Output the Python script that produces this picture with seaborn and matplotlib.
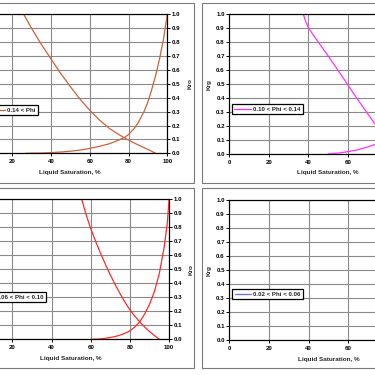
import seaborn as sns
import matplotlib.pyplot as plt
from matplotlib.patches import Rectangle
from matplotlib.ticker import FormatStrFormatter

# legend names and series colours for the four porosity classes
labels = ['0.14 < Phi', '0.10 < Phi < 0.14', '0.06 < Phi < 0.10', '0.02 < Phi < 0.06']
colors = ['#c8643c', '#ff33ff', '#ff2a2a', '#6a6aff']

# panel 1 (top left)
sl_krg_1 = [26, 30, 35, 40, 45, 50, 55, 60, 65, 70, 75, 80, 85, 90, 94]
krg_1 = [1.0, 0.9, 0.785, 0.68, 0.575, 0.48, 0.39, 0.31, 0.24, 0.18, 0.135, 0.095, 0.06, 0.028, 0.0]
sl_kro_1 = [27, 35, 40, 45, 50, 55, 60, 65, 70, 75, 78, 80, 83, 85, 88, 90, 92, 94, 96, 98, 100]
kro_1 = [0.0, 0.002, 0.005, 0.009, 0.015, 0.023, 0.035, 0.05, 0.068, 0.095, 0.115, 0.135,
         0.18, 0.22, 0.3, 0.37, 0.46, 0.56, 0.68, 0.82, 1.0]

# panel 2 (top right)
sl_krg_2 = [37.5, 38.5, 40, 42.5, 45, 50, 55, 60, 65, 70, 74, 80, 85, 90, 95]
krg_2 = [1.0, 0.955, 0.905, 0.852, 0.802, 0.703, 0.6, 0.495, 0.39, 0.29, 0.21, 0.11, 0.05, 0.015, 0.0]
sl_kro_2 = [50, 55, 60, 65, 70, 74, 80, 85, 90, 95, 100]
kro_2 = [0.0, 0.006, 0.017, 0.03, 0.05, 0.07, 0.13, 0.22, 0.38, 0.62, 1.0]

# panel 3 (bottom left)
sl_krg_3 = [55.4, 58, 60, 62.5, 65, 67.5, 70, 72.5, 75, 77.5, 80, 82.5, 85, 87.5, 90, 92.5, 95]
krg_3 = [1.0, 0.875, 0.79, 0.7, 0.615, 0.535, 0.46, 0.39, 0.325, 0.265, 0.21, 0.165, 0.125,
         0.088, 0.056, 0.027, 0.0]
sl_kro_3 = [60, 62.5, 65, 67.5, 70, 72.5, 75, 77.5, 80, 82.5, 85, 87.5, 90, 92.5, 95, 97.5, 99, 100]
kro_3 = [0.0, 0.001, 0.003, 0.007, 0.013, 0.02, 0.03, 0.043, 0.06, 0.088, 0.125, 0.18, 0.25,
         0.34, 0.47, 0.66, 0.82, 1.0]

# panel 4 (bottom right) - curves lie right of the visible window
sl_krg_4 = [76, 80, 85, 90, 95, 98]
krg_4 = [1.0, 0.7, 0.4, 0.17, 0.04, 0.0]
sl_kro_4 = [77, 85, 90, 95, 100]
kro_4 = [0.0, 0.04, 0.15, 0.45, 1.0]

panels = [
    (sl_krg_1, krg_1, sl_kro_1, kro_1),
    (sl_krg_2, krg_2, sl_kro_2, kro_2),
    (sl_krg_3, krg_3, sl_kro_3, kro_3),
    (sl_krg_4, krg_4, sl_kro_4, kro_4),
]

W = H = 375.0


def px_rect(left, top, width, height):
    return [left / W, 1 - (top + height) / H, width / W, height / H]


# plot areas in pixels: left, top, width, height
plot_boxes = [
    (-26.7, 14.3, 194.0, 139.0),
    (229.3, 14.3, 197.5, 139.7),
    (-26.9, 199.3, 196.0, 140.0),
    (229.3, 200.3, 198.5, 140.0),
]
# chart area frames
frame_boxes = [
    (-300, 3.3, 494.3, 179.4),
    (201.7, 3.3, 400, 179.4),
    (-300, 188.3, 494.3, 179.4),
    (201.7, 188.3, 400, 179.4),
]
# legend anchor (axes fraction)
legend_pos = [(0.065, 0.347), (0.012, 0.358), (0.01, 0.336), (0.015, 0.366)]

sns.set_style('white')
plt.rcParams['font.family'] = ['Liberation Sans', 'DejaVu Sans']
plt.rcParams['font.weight'] = 'bold'

fs = 4.4
fig = plt.figure(figsize=(3.75, 3.75), dpi=100)

for fb in frame_boxes:
    fig.add_artist(Rectangle((fb[0] / W, 1 - (fb[1] + fb[3]) / H), fb[2] / W, fb[3] / H,
                             transform=fig.transFigure, fill=False,
                             edgecolor='#7a7a7a', lw=0.8))

for i, (sg, krg, so, kro) in enumerate(panels):
    ax = fig.add_axes(px_rect(*plot_boxes[i]))
    ax2 = ax.twinx()
    sns.lineplot(x=sg, y=krg, ax=ax, color=colors[i], lw=0.9, estimator=None)
    sns.lineplot(x=so, y=kro, ax=ax2, color=colors[i], lw=0.9, estimator=None)
    for a in (ax, ax2):
        a.set_xlim(0, 100)
        a.set_ylim(0, 1.0)
        a.set_yticks([j / 10 for j in range(11)])
        a.yaxis.set_major_formatter(FormatStrFormatter('%.1f'))
        for s in a.spines.values():
            s.set_color('black')
            s.set_linewidth(0.8)
    ax.set_xticks(range(0, 101, 20))
    ax.grid(True, color='#8a8a8a', lw=0.8)
    ax.set_axisbelow(True)
    ax.tick_params(axis='both', direction='out', length=2.2, width=0.7,
                   labelsize=fs, colors='black', left=True, bottom=True)
    ax.tick_params(axis='y', pad=1)
    ax.tick_params(axis='x', pad=2)
    ax2.tick_params(axis='y', direction='out', length=2.2, width=0.7,
                    labelsize=fs, colors='black', right=True, pad=1)
    ax.set_xlabel('Liquid Saturation, %', fontsize=fs + 0.2, fontweight='bold', labelpad=4)
    ax.set_ylabel('Krg', fontsize=fs + 0.2, fontweight='bold', labelpad=3)
    ax2.set_ylabel('Kro', fontsize=fs + 0.2, fontweight='bold', labelpad=5)
    leg = ax2.legend(handles=[ax.get_lines()[0]], labels=[labels[i]], loc='upper left',
                     bbox_to_anchor=legend_pos[i], borderaxespad=0, frameon=True,
                     fancybox=False, edgecolor='black', framealpha=1,
                     fontsize=fs, handlelength=2.7, handletextpad=0.35, borderpad=0.4)
    leg.get_frame().set_linewidth(0.9)
    for t in leg.get_texts():
        t.set_fontweight('bold')

fig.savefig('out.png', dpi=100)
